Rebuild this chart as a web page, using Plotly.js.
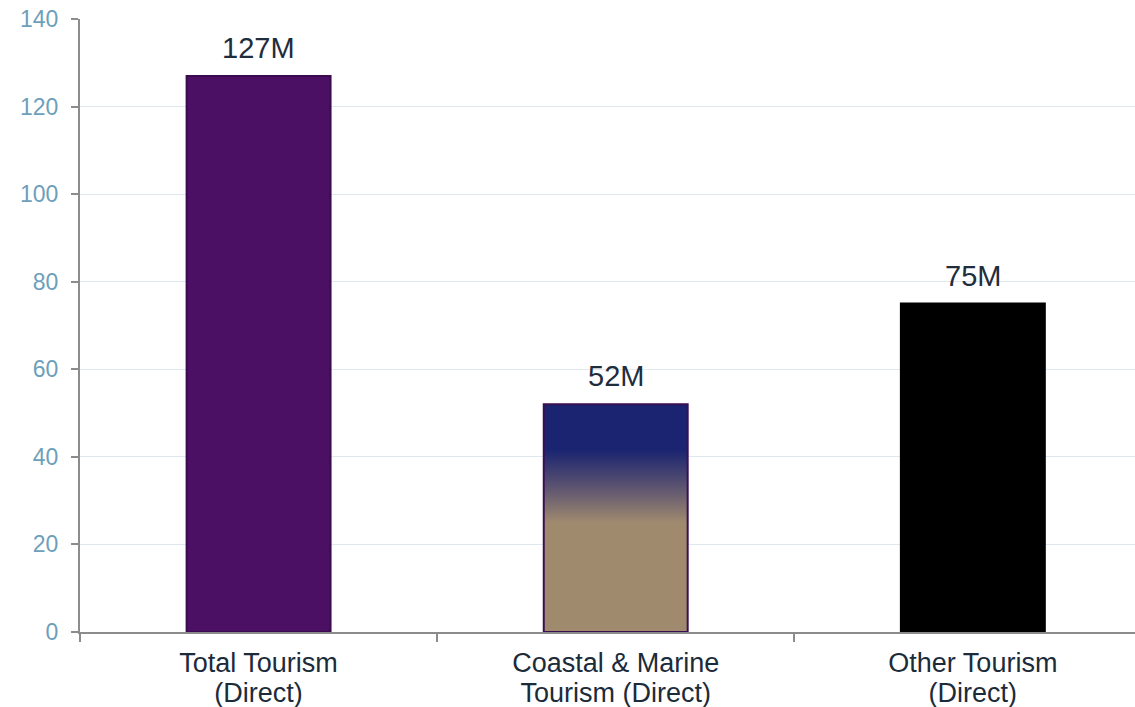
<!DOCTYPE html>
<html>
<head>
<meta charset="utf-8">
<script src="https://cdn.plot.ly/plotly-3.0.1.min.js"></script>
<style>
  html, body { margin: 0; padding: 0; background: #ffffff; overflow: hidden; }
  #chart { width: 1135px; height: 707px; }
</style>
</head>
<body>
<div id="chart"></div>
<script>
// Direct tourism figures, in millions
const categories = ['Total Tourism<br>(Direct)', 'Coastal & Marine<br>Tourism (Direct)', 'Other Tourism<br>(Direct)'];
const values = [127, 52, 75];
const barColors = ['#4b0f63', '#1a2470', '#000000'];
const barLines = ['#3a0b4e', '#3a0f52', '#000000'];
const yTicks = [0, 20, 40, 60, 80, 100, 120, 140];

const FONT = 'Liberation Sans, Arial, sans-serif';

const trace = {
  type: 'bar',
  x: categories,
  y: values,
  width: 0.403,
  marker: { color: barColors, line: { color: barLines, width: 2 } },
  hoverinfo: 'none'
};

// value labels above each bar
const annotations = categories.map((c, i) => ({
  x: c, y: values[i], xref: 'x', yref: 'y',
  text: values[i] + 'M',
  showarrow: false,
  yanchor: 'bottom',
  yshift: 10,
  font: { family: FONT, size: 29, color: '#1f2d3d' }
}));

const layout = {
  width: 1135,
  height: 707,
  margin: { l: 80, r: 0, t: 19, b: 75, pad: 0 },
  paper_bgcolor: '#ffffff',
  plot_bgcolor: '#ffffff',
  showlegend: false,
  bargap: 0,
  xaxis: {
    type: 'category',
    range: [-0.5, 2.454],
    showline: true,
    linecolor: '#8c8c8c',
    linewidth: 2,
    ticks: 'outside',
    tickson: 'boundaries',
    ticklen: 8,
    tickwidth: 2,
    tickcolor: '#8c8c8c',
    showgrid: false,
    zeroline: false,
    ticklabelstandoff: 6,
    tickfont: { family: FONT, size: 27, color: '#1c2b3a' }
  },
  yaxis: {
    range: [0, 140],
    tickvals: yTicks,
    ticktext: yTicks.map(String),
    showline: true,
    linecolor: '#8c8c8c',
    linewidth: 2,
    ticks: 'outside',
    ticklen: 7,
    tickwidth: 2,
    tickcolor: '#8c8c8c',
    showgrid: true,
    gridcolor: '#dfe8f0',
    gridwidth: 1,
    zeroline: false,
    ticklabelstandoff: 8,
    tickfont: { family: FONT, size: 23, color: '#6d9fba' }
  },
  annotations: annotations
};

Plotly.newPlot('chart', [trace], layout, { displayModeBar: false, staticPlot: true }).then(gd => {
  // vertical navy-to-sand fill for the coastal & marine bar
  const svg = gd.querySelector('svg.main-svg');
  const ns = 'http://www.w3.org/2000/svg';
  let defs = svg.querySelector('defs');
  if (!defs) { defs = document.createElementNS(ns, 'defs'); svg.insertBefore(defs, svg.firstChild); }
  const grad = document.createElementNS(ns, 'linearGradient');
  grad.setAttribute('id', 'coastalFill');
  grad.setAttribute('x1', '0'); grad.setAttribute('y1', '0');
  grad.setAttribute('x2', '0'); grad.setAttribute('y2', '1');
  [['0', '#1a2470'], ['0.2', '#1a2470'], ['0.36', '#5a5270'], ['0.52', '#a08a6e'], ['1', '#a08a6e']].forEach(([o, c]) => {
    const s = document.createElementNS(ns, 'stop');
    s.setAttribute('offset', o);
    s.setAttribute('stop-color', c);
    grad.appendChild(s);
  });
  defs.appendChild(grad);
  const paths = gd.querySelectorAll('.barlayer .point path');
  if (paths[1]) paths[1].style.fill = 'url(#coastalFill)';

  // tighter line spacing for the two-line category labels
  gd.querySelectorAll('.xtick text tspan.line').forEach(t => {
    if (t.getAttribute('dy') && t.getAttribute('dy') !== '0em') t.setAttribute('dy', '1.1em');
  });
});
</script>
</body>
</html>
